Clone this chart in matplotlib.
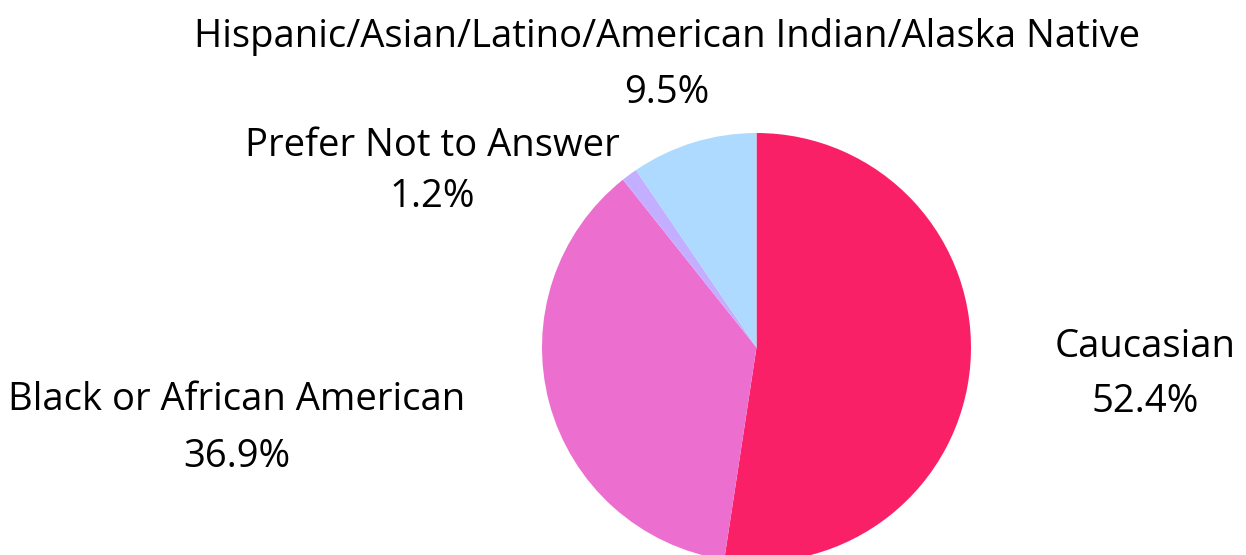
import matplotlib
matplotlib.use('Agg')
from matplotlib import pyplot as plt

categories = ['Caucasian', 'Black or African American', 'Prefer Not to Answer',
              'Hispanic/Asian/Latino/American Indian/Alaska Native']
values = [52.4, 36.9, 1.2, 9.5]
colors = ['#FA2068', '#EC6FCF', '#C3AEFF', '#ADDAFE']

W, H = 1246, 555
plt.rcParams['font.family'] = ['Open Sans', 'DejaVu Sans']

fig = plt.figure(figsize=(W / 100, H / 100), dpi=100)

# pie centre ~ (756, 347) px, radius ~214 px
cx, cy, r = 756.5, 347.5, 214.5
ax = fig.add_axes([(cx - r) / W, 1 - (cy + r) / H, 2 * r / W, 2 * r / H])
ax.pie(values, colors=colors, startangle=90, counterclock=False,
       wedgeprops=dict(linewidth=0))
ax.set_xlim(-1, 1)
ax.set_ylim(-1, 1)
ax.axis('off')

# label positions: (x centre, name baseline, pct baseline) in px
label_pos = [(1145, 357, 412), (237, 410, 467), (432, 156, 207), (667, 47, 103)]
for name, val, (x, y1, y2) in zip(categories, values, label_pos):
    fig.text(x / W, 1 - y1 / H, name, ha='center', va='baseline', fontsize=27.5, color='black')
    fig.text(x / W, 1 - y2 / H, f'{val}%', ha='center', va='baseline', fontsize=27.5, color='black')

fig.savefig('out.png', dpi=100)
